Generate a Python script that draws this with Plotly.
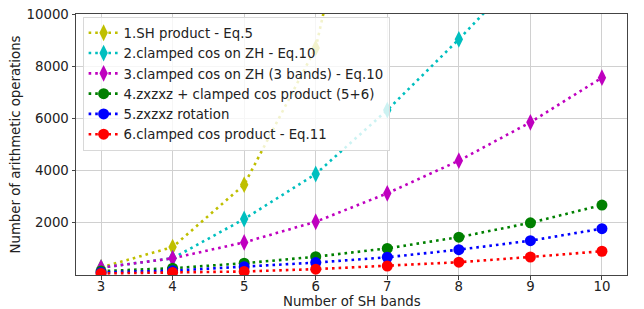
import plotly.graph_objects as go

bands = [3, 4, 5, 6, 7, 8, 9, 10]
y_ticks = [2000, 4000, 6000, 8000, 10000]
y_tick_labels = ["2000", "4000", "6000", "8000", "10000"]

sh_product = [290, 1070, 3460, 8700, 21000]
clamped_zh = [280, 640, 2145, 3870, 6320, 9030, 11900, 15000]
clamped_zh3 = [280, 640, 1250, 2040, 3130, 4380, 5850, 7560]
zxz_clamped = [150, 260, 450, 700, 1020, 1450, 2000, 2680]
zxz_rot = [100, 165, 320, 475, 680, 970, 1315, 1775]
clamped_prod = [60, 100, 135, 225, 345, 490, 690, 910]

names = [
    "1.SH product - Eq.5",
    "2.clamped cos on ZH - Eq.10",
    "3.clamped cos on ZH (3 bands) - Eq.10",
    "4.zxzxz + clamped cos product (5+6)",
    "5.zxzxz rotation",
    "6.clamped cos product - Eq.11",
]
series = [sh_product, clamped_zh, clamped_zh3, zxz_clamped, zxz_rot, clamped_prod]
colors = ["#bfbf00", "#00bfbf", "#bf00bf", "#008000", "#0000ff", "#ff0000"]
symbols = ["diamond-tall", "diamond-tall", "diamond-tall", "circle", "circle", "circle"]
sizes = [12, 12, 12, 11, 11, 11]

FONT = "DejaVu Sans"
FS = 13.3

fig = go.Figure()
for name, vals, c, s, sz in zip(names, series, colors, symbols, sizes):
    fig.add_trace(go.Scatter(
        x=bands[:len(vals)], y=vals, name=name, mode="lines+markers",
        line=dict(color=c, width=2.6, dash="2.6px,4px"),
        marker=dict(color=c, symbol=s, size=sz, line=dict(width=0)),
        cliponaxis=True,
    ))

axis_common = dict(
    showline=True, linecolor="#444", linewidth=1, mirror=True,
    showgrid=True, gridcolor="#d0d0d0", gridwidth=1,
    ticks="outside", ticklen=3.5, tickcolor="#444",
    tickfont=dict(family=FONT, size=FS, color="#222"),
    zeroline=False, automargin=False, ticklabeloverflow="allow",
)

# the page body has an 8px margin, so the figure is sized/offset to compensate
fig.update_layout(
    width=628, height=301,
    margin=dict(l=68, r=9, t=6, b=34, autoexpand=False),
    paper_bgcolor="white", plot_bgcolor="white",
    font=dict(family=FONT, size=FS, color="#222"),
    xaxis=dict(range=[2.65, 10.35], tickvals=bands, ticklabelstandoff=-4, **axis_common),
    yaxis=dict(range=[0, 10000], tickvals=y_ticks, ticktext=y_tick_labels,
               title=dict(text="Number of arithmetic operations", standoff=8,
                          font=dict(family=FONT, size=FS)),
               **axis_common),
    legend=dict(x=0.012, y=0.99, xanchor="left", yanchor="top",
                bgcolor="rgba(255,255,255,0.8)", bordercolor="#d8d8d8", borderwidth=1,
                font=dict(family=FONT, size=FS, color="#222"),
                tracegroupgap=0, itemwidth=30),
    showlegend=True,
    annotations=[dict(text="Number of SH bands", xref="paper", yref="paper",
                      x=0.5, y=0, xanchor="center", yanchor="top", yshift=-17,
                      showarrow=False, font=dict(family=FONT, size=FS, color="#222"))],
)

fig.write_html("out.html")
